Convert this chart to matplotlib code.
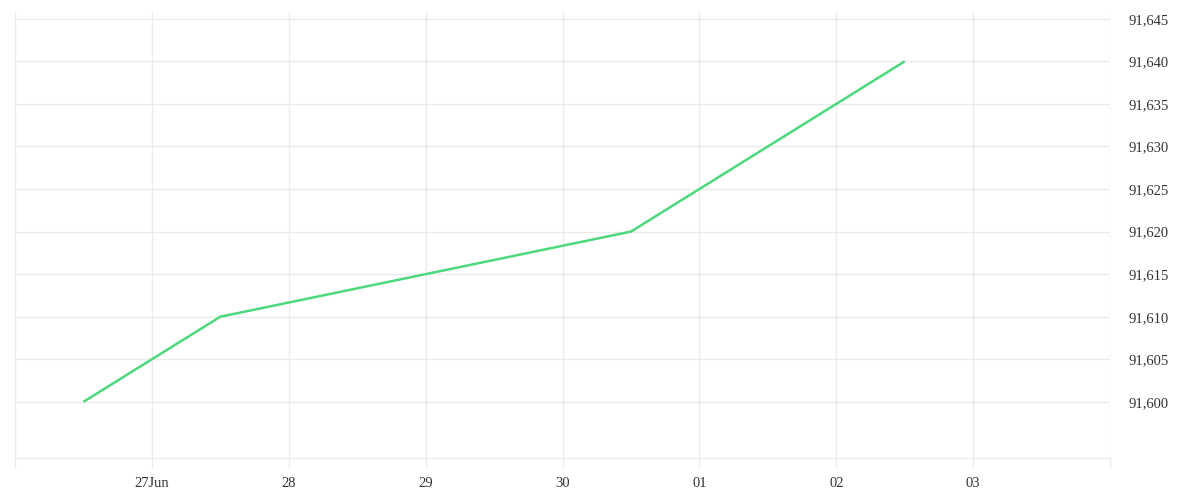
import matplotlib
matplotlib.use('Agg')
import matplotlib.pyplot as plt
import matplotlib.dates as mdates
import numpy as np
import pandas as pd

# points (noon of each day)
dates = pd.to_datetime(['2024-06-26 12:00', '2024-06-27 12:00', '2024-06-30 12:00', '2024-07-02 12:00'])
values = [91600, 91610, 91620, 91640]

# axis ticks
day_ticks = pd.date_range('2024-06-26', '2024-07-04', freq='D')
day_labels = ['', '27Jun', '28', '29', '30', '01', '02', '03', '']
y_ticks = np.arange(91600, 91646, 5)

plt.rcParams['font.family'] = ['Liberation Serif', 'DejaVu Serif']

fig = plt.figure(figsize=(12, 5), dpi=100)
ax = fig.add_axes([0.0125, 0.084, 0.9125, 0.892])

ax.plot(dates, values, color='#4cd97b', lw=1.8, solid_capstyle='butt', zorder=3)

ax.set_xlim(day_ticks[0], day_ticks[-1])
ax.set_ylim(91593.4, 91645.8)

ax.set_xticks(day_ticks)
ax.set_xticklabels(day_labels)
ax.set_yticks(y_ticks)
ax.set_yticklabels([f'{v:,}' for v in y_ticks])
ax.yaxis.tick_right()

grid_c = '#ebebeb'
ax.grid(True, color=grid_c, lw=1)
for s in ['top', 'left', 'right']:
    ax.spines[s].set_visible(False)
ax.spines['bottom'].set_color(grid_c)

ax.tick_params(axis='x', length=7, color=grid_c, width=1, pad=7, labelsize=10.5, labelcolor='#333333')
ax.tick_params(axis='y', length=0, pad=13, labelsize=10.5, labelcolor='#333333')

fig.savefig('out.png', dpi=100, facecolor='white')
